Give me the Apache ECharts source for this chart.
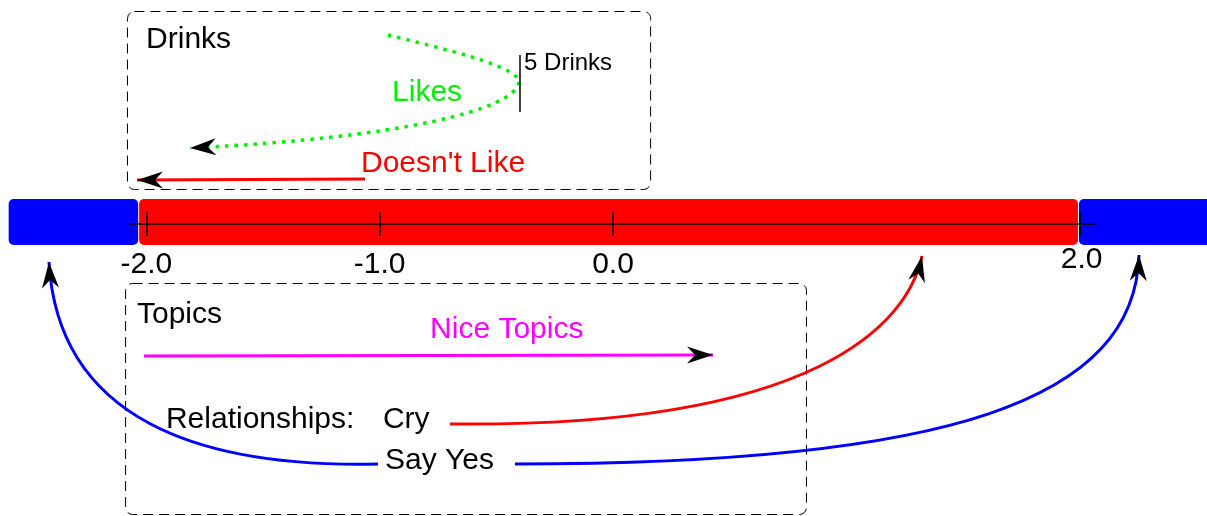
<!DOCTYPE html>
<html><head><meta charset="utf-8">
<script src="https://cdn.jsdelivr.net/npm/echarts@6/dist/echarts.min.js"></script>
<style>html,body{margin:0;padding:0;background:#fff}#c{width:1207px;height:516px}</style>
</head><body><div id="c"></div>
<script>
// ---- scale ----
const tickValues = [-2, -1, 0, 2];
const axisMin = -2.07, axisMax = 2.07;

// ---- coloured bands along the scale: [from, to] ----
const bandRanges = [[-2.59, -2.035], [-2.031, 1.993], [1.997, 2.62]];

// ---- dashed group boxes: [xFrom, xTo, rowTop, rowBottom] ----
const groupBoxes = [[-2.083, 0.159, 11, 189], [-2.091, 0.827, 283, 514]];

// ---- text labels: [x (left edge on scale), row] ----
const labelTexts = ['Drinks', '5 Drinks', 'Likes', "Doesn't Like", 'Topics', 'Nice Topics', 'Relationships:', 'Cry', 'Say Yes'];
const labelPoints = [[-2.001, 40], [-0.381, 63], [-0.947, 93], [-1.080, 164], [-2.040, 315], [-0.784, 330], [-1.916, 420], [-0.986, 420], [-0.977, 461]];

// ---- cubic curves: [x0,r0, c1x,c1r, c2x,c2r, x1,r1] ----
const likesCurve = [[-0.9643, 35, -0.7414, 48, -0.4029, 66, -0.4029, 82], [-0.4029, 82, -0.4200, 110, -0.9129, 138, -1.8129, 148]];
const cryCurve = [[-0.6986, 424, 0.8871, 428, 1.2643, 322, 1.3243, 256]];
const sayYesCurves = [[-1.0071, 464, -1.7700, 468, -2.3786, 420, -2.4172, 262], [-0.4200, 464, 1.4443, 464, 2.2372, 400, 2.2543, 255]];

// ---- straight arrows: [xFrom, rFrom, xTo, rTo] ----
const doesntLikeLine = [[-1.0629, 179, -2.0400, 180]];
const niceTopicsLine = [[-2.0100, 356, 0.4286, 355]];
// ---- "5 Drinks" marker: [x, rTop, rBottom] ----
const fiveDrinksMark = [[-0.3986, 55, 112]];

// ---- arrow heads: [tipX, tipR, fromX, fromR] ----
const arrowHeads = [
  [-1.8129, 148, -0.9129, 138],
  [-2.0400, 180, -1.0629, 179],
  [0.4286, 355, -2.0100, 356],
  [1.3243, 256, 1.2643, 322],
  [-2.4172, 262, -2.3786, 420],
  [2.2543, 255, 2.2372, 400]
];

// ================= rendering =================
const FONT = '"Liberation Sans", Arial, sans-serif';
const bandColors = ['#0000ff', '#ff0000', '#0000ff'];
const labelColors = ['#000', '#000', '#00f000', '#ff0000', '#000', '#ff00ff', '#000', '#000', '#000'];
const labelSizes = [30, 24, 30, 30, 30, 30, 30, 30, 30];
const BAND_TOP = 199, BAND_BOTTOM = 245;

function curveSeries(data, color, dash, width) {
  return {
    type: 'custom', z: 3, silent: true, data: data,
    renderItem: function (params, api) {
      const p0 = api.coord([api.value(0), api.value(1)]);
      const c1 = api.coord([api.value(2), api.value(3)]);
      const c2 = api.coord([api.value(4), api.value(5)]);
      const p1 = api.coord([api.value(6), api.value(7)]);
      return {
        type: 'bezierCurve',
        shape: { x1: p0[0], y1: p0[1], cpx1: c1[0], cpy1: c1[1], cpx2: c2[0], cpy2: c2[1], x2: p1[0], y2: p1[1] },
        style: { stroke: color, lineWidth: width || 3, fill: null, lineDash: dash || null, lineCap: 'butt' }
      };
    }
  };
}
function lineSeries(data, color, width) {
  return {
    type: 'custom', z: 3, silent: true, data: data,
    renderItem: function (params, api) {
      const a = api.coord([api.value(0), api.value(1)]);
      const b = api.coord([api.value(2), api.value(3)]);
      return { type: 'line', shape: { x1: a[0], y1: a[1], x2: b[0], y2: b[1] }, style: { stroke: color, lineWidth: width } };
    }
  };
}

const option = {
  backgroundColor: '#ffffff',
  animation: false,
  grid: { left: 130, right: 111, top: 0, height: 224, containLabel: false },
  xAxis: [{
    type: 'value', min: axisMin, max: axisMax, position: 'bottom', z: 10,
    axisLine: { show: true, onZero: false, lineStyle: { color: '#000', width: 1.5 } },
    axisTick: { show: true, customValues: tickValues, length: 12, lineStyle: { color: '#000', width: 1.5 } },
    axisLabel: {
      show: true, customValues: tickValues, margin: 21,
      formatter: function (v) { return v === 2 ? '{b|2.0}' : '{a|' + v.toFixed(1) + '}'; },
      rich: {
        a: { fontSize: 30, fontFamily: FONT, color: '#000', padding: [5, 0, 0, 0] },
        b: { fontSize: 30, fontFamily: FONT, color: '#000', padding: [0, 0, 0, 4] }
      }
    },
    splitLine: { show: false }
  }, {
    type: 'value', min: axisMin, max: axisMax, position: 'bottom', z: 10,
    axisLine: { show: false, onZero: false },
    axisTick: { show: true, inside: true, customValues: tickValues, length: 12, lineStyle: { color: '#000', width: 1.5 } },
    axisLabel: { show: false },
    splitLine: { show: false }
  }],
  yAxis: { type: 'value', inverse: true, min: 0, max: 224, show: false, splitLine: { show: false } },
  series: [
    {
      type: 'custom', z: 1, silent: true, data: bandRanges,
      renderItem: function (params, api) {
        const a = api.coord([api.value(0), BAND_TOP]);
        const b = api.coord([api.value(1), BAND_BOTTOM]);
        return { type: 'rect', shape: { x: a[0], y: a[1], width: b[0] - a[0], height: b[1] - a[1], r: 5 }, style: { fill: bandColors[params.dataIndex] } };
      }
    },
    {
      type: 'custom', z: 1, silent: true, data: groupBoxes,
      renderItem: function (params, api) {
        const a = api.coord([api.value(0), api.value(2)]);
        const b = api.coord([api.value(1), api.value(3)]);
        return { type: 'rect', shape: { x: a[0] + 0.5, y: a[1] + 0.5, width: b[0] - a[0], height: b[1] - a[1], r: 7 }, style: { fill: null, stroke: '#000', lineWidth: 1, lineDash: [10, 6] } };
      }
    },
    curveSeries(likesCurve, '#00f000', [3.5, 6], 3.5),
    curveSeries(cryCurve, '#ff0000'),
    curveSeries(sayYesCurves, '#0000ff'),
    lineSeries(doesntLikeLine, '#ff0000', 3),
    lineSeries(niceTopicsLine, '#ff00ff', 3),
    {
      type: 'custom', z: 3, silent: true, data: fiveDrinksMark,
      renderItem: function (params, api) {
        const a = api.coord([api.value(0), api.value(1)]);
        const b = api.coord([api.value(0), api.value(2)]);
        return { type: 'line', shape: { x1: a[0], y1: a[1], x2: b[0], y2: b[1] }, style: { stroke: '#000', lineWidth: 1.5 } };
      }
    },
    {
      type: 'custom', z: 4, silent: true, data: arrowHeads,
      renderItem: function (params, api) {
        const t = api.coord([api.value(0), api.value(1)]);
        const f = api.coord([api.value(2), api.value(3)]);
        let dx = t[0] - f[0], dy = t[1] - f[1];
        const len = Math.sqrt(dx * dx + dy * dy); dx /= len; dy /= len;
        const nx = -dy, ny = dx, L = 26, W = 8.5, N = 18;
        return {
          type: 'polygon',
          shape: { points: [
            [t[0], t[1]],
            [t[0] - L * dx + W * nx, t[1] - L * dy + W * ny],
            [t[0] - N * dx, t[1] - N * dy],
            [t[0] - L * dx - W * nx, t[1] - L * dy - W * ny]
          ] },
          style: { fill: '#000' }
        };
      }
    },
    {
      type: 'custom', z: 5, silent: true, data: labelPoints,
      renderItem: function (params, api) {
        const p = api.coord([api.value(0), api.value(1)]);
        const i = params.dataIndex;
        return {
          type: 'text', x: p[0], y: p[1],
          style: { text: labelTexts[i], fill: labelColors[i], font: labelSizes[i] + 'px ' + FONT,
            align: 'left', verticalAlign: 'middle', textAlign: 'left', textVerticalAlign: 'middle' }
        };
      }
    }
  ]
};
const chart = echarts.init(document.getElementById('c'), null, { renderer: 'canvas' });
chart.setOption(option);
</script></body></html>
